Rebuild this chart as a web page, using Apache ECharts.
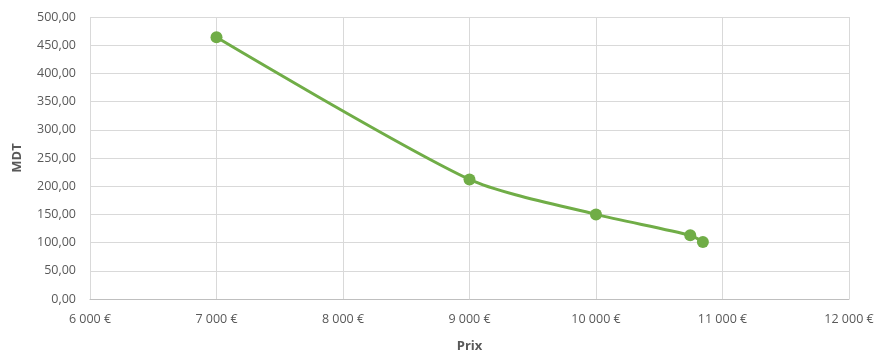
<!DOCTYPE html>
<html><head><meta charset="utf-8">
<script src="https://cdn.jsdelivr.net/npm/echarts@6/dist/echarts.min.js"></script>
<style>html,body{margin:0;padding:0;background:#fff}#c{width:878px;height:358px}</style>
</head><body><div id="c"></div>
<script>
var prix = [7000, 9000, 10000, 10745, 10845];
var mdt = [464, 212, 150, 113, 101];
var xTicks = [6000, 7000, 8000, 9000, 10000, 11000, 12000];
var yTicks = [0, 50, 100, 150, 200, 250, 300, 350, 400, 450, 500];

var chart = echarts.init(document.getElementById('c'));
function fmtEuro(v){ return String(v).replace(/\B(?=(\d{3})+(?!\d))/g, ' ') + ' €'; }
var font = 'Open Sans';
chart.setOption({
  animation: false,
  grid: {left: 90, right: 29, top: 17, bottom: 57},
  xAxis: {
    type: 'value', min: xTicks[0], max: xTicks[xTicks.length-1], interval: 1000,
    name: 'Prix', nameLocation: 'middle', nameGap: 41,
    nameTextStyle: {fontFamily: font, fontWeight: 'bold', fontSize: 13, color: '#595959'},
    axisLine: {show: true, lineStyle: {color: '#bfbfbf'}},
    axisTick: {show: false},
    axisLabel: {fontFamily: font, fontSize: 12.5, color: '#595959', margin: 14, formatter: fmtEuro},
    splitLine: {show: true, lineStyle: {color: '#d9d9d9'}}
  },
  yAxis: {
    type: 'value', min: yTicks[0], max: yTicks[yTicks.length-1], interval: 50,
    name: 'MDT', nameLocation: 'middle', nameGap: 66, nameRotate: 90,
    nameTextStyle: {fontFamily: font, fontWeight: 'bold', fontSize: 13, color: '#595959'},
    axisLine: {show: false}, axisTick: {show: false},
    axisLabel: {fontFamily: font, fontSize: 12.5, color: '#595959', margin: 14,
      formatter: function(v){ return v.toFixed(2).replace('.', ','); }},
    splitLine: {show: true, lineStyle: {color: '#d9d9d9'}}
  },
  series: [{
    type: 'line', smooth: 0.25,
    data: prix.map(function(p, i){ return [p, mdt[i]]; }),
    lineStyle: {color: '#70ad47', width: 3},
    itemStyle: {color: '#70ad47'},
    symbol: 'circle', symbolSize: 12
  }]
});
</script></body></html>
